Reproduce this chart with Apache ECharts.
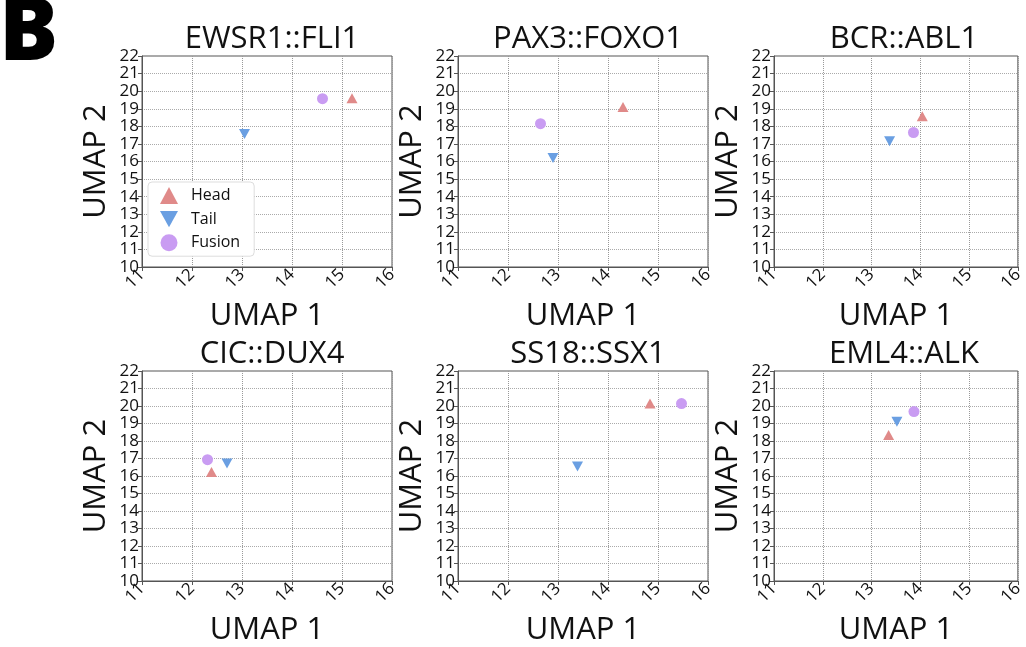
<!DOCTYPE html>
<html>
<head>
<meta charset="utf-8">
<script src="https://cdn.jsdelivr.net/npm/echarts@6/dist/echarts.min.js"></script>
<style>
  html, body { margin: 0; padding: 0; background: #fff; }
  #main { width: 1026px; height: 647px; }
</style>
</head>
<body>
<div id="main"></div>
<script>
// one panel per fusion
var fusionNames = ['EWSR1::FLI1', 'PAX3::FOXO1', 'BCR::ABL1', 'CIC::DUX4', 'SS18::SSX1', 'EML4::ALK'];
var headX = [15.2, 14.3, 14.04, 12.39, 14.84, 13.35];
var headY = [19.6, 19.1, 18.58, 16.23, 20.14, 18.35];
var tailX = [13.05, 12.9, 13.37, 12.7, 13.39, 13.52];
var tailY = [17.57, 16.2, 17.15, 16.72, 16.55, 19.1];
var fusionX = [14.61, 12.65, 13.86, 12.31, 15.47, 13.87];
var fusionY = [19.57, 18.15, 17.65, 16.93, 20.14, 19.68];
var xTicks = [11, 12, 13, 14, 15, 16];
var yTicks = [10, 11, 12, 13, 14, 15, 16, 17, 18, 19, 20, 21, 22];

var headColor = '#e08a89';
var tailColor = '#6a9fe2';
var fusionColor = '#c99cf2';
var font = 'Open Sans';
var downTri = 'path://M0,0 L10,0 L5,9 Z';

var lefts = [142, 458, 774];
var tops = [56, 371];
var W = 250, H = 211;

var grids = [], xAxes = [], yAxes = [], titles = [], series = [];

titles.push({
  text: 'B', left: -6, top: -14,
  textStyle: { fontFamily: font, fontSize: 88, fontWeight: 900, color: '#000' }
});

fusionNames.forEach(function (name, i) {
  var l = lefts[i % 3], t = tops[Math.floor(i / 3)];
  grids.push({ left: l, top: t, width: W, height: H, show: true, borderColor: '#555', borderWidth: 1, backgroundColor: '#fff' });
  titles.push({
    text: name, left: l + W / 2, top: t - 37, textAlign: 'center',
    textStyle: { fontFamily: font, fontSize: 31, fontWeight: 'normal', color: '#111' }
  });
  xAxes.push({
    gridIndex: i, type: 'value', min: xTicks[0], max: xTicks[xTicks.length - 1], interval: 1,
    name: 'UMAP 1', nameLocation: 'middle', nameGap: 34,
    nameTextStyle: { fontFamily: font, fontSize: 31, color: '#111' },
    axisLine: { onZero: false, lineStyle: { color: '#555', width: 1 } },
    axisTick: { show: true, length: 4, lineStyle: { color: '#555' } },
    axisLabel: { rotate: 45, fontFamily: font, fontSize: 17, color: '#111', margin: 5 },
    splitLine: { show: true, lineStyle: { color: '#999', type: 'dotted', width: 1 } }
  });
  yAxes.push({
    gridIndex: i, type: 'value', min: yTicks[0], max: yTicks[yTicks.length - 1], interval: 1,
    name: 'UMAP 2', nameLocation: 'middle', nameGap: 30, nameRotate: 90,
    nameTextStyle: { fontFamily: font, fontSize: 31, color: '#111' },
    axisLine: { onZero: false, lineStyle: { color: '#555', width: 1 } },
    axisTick: { show: true, length: 4, lineStyle: { color: '#555' } },
    axisLabel: { fontFamily: font, fontSize: 17, color: '#111', margin: 3 },
    splitLine: { show: true, lineStyle: { color: '#aaa', type: 'dotted', width: 1 } }
  });
  series.push({
    name: 'Head', type: 'scatter', xAxisIndex: i, yAxisIndex: i,
    symbol: 'triangle', symbolSize: [11, 10],
    itemStyle: { color: headColor, opacity: 1 },
    data: [[headX[i], headY[i]]]
  });
  series.push({
    name: 'Tail', type: 'scatter', xAxisIndex: i, yAxisIndex: i,
    symbol: downTri, symbolSize: [11, 10],
    itemStyle: { color: tailColor, opacity: 1 },
    data: [[tailX[i], tailY[i]]]
  });
  series.push({
    name: 'Fusion', type: 'scatter', xAxisIndex: i, yAxisIndex: i,
    symbol: 'circle', symbolSize: 11,
    itemStyle: { color: fusionColor, opacity: 1 },
    data: [[fusionX[i], fusionY[i]]]
  });
});

var chart = echarts.init(document.getElementById('main'));
chart.setOption({
  animation: false,
  title: titles,
  grid: grids,
  xAxis: xAxes,
  yAxis: yAxes,
  legend: {
    orient: 'vertical', left: 148, top: 182,
    backgroundColor: '#fff', borderColor: '#ddd', borderWidth: 1, borderRadius: 4,
    padding: [5, 14, 5, 12], itemGap: 7, itemWidth: 18, itemHeight: 17,
    textStyle: { fontFamily: font, fontSize: 16, color: '#111', padding: [0, 0, 0, 8] },
    data: [
      { name: 'Head', icon: 'triangle' },
      { name: 'Tail', icon: downTri },
      { name: 'Fusion', icon: 'circle' }
    ]
  },
  series: series
});
</script>
</body>
</html>
